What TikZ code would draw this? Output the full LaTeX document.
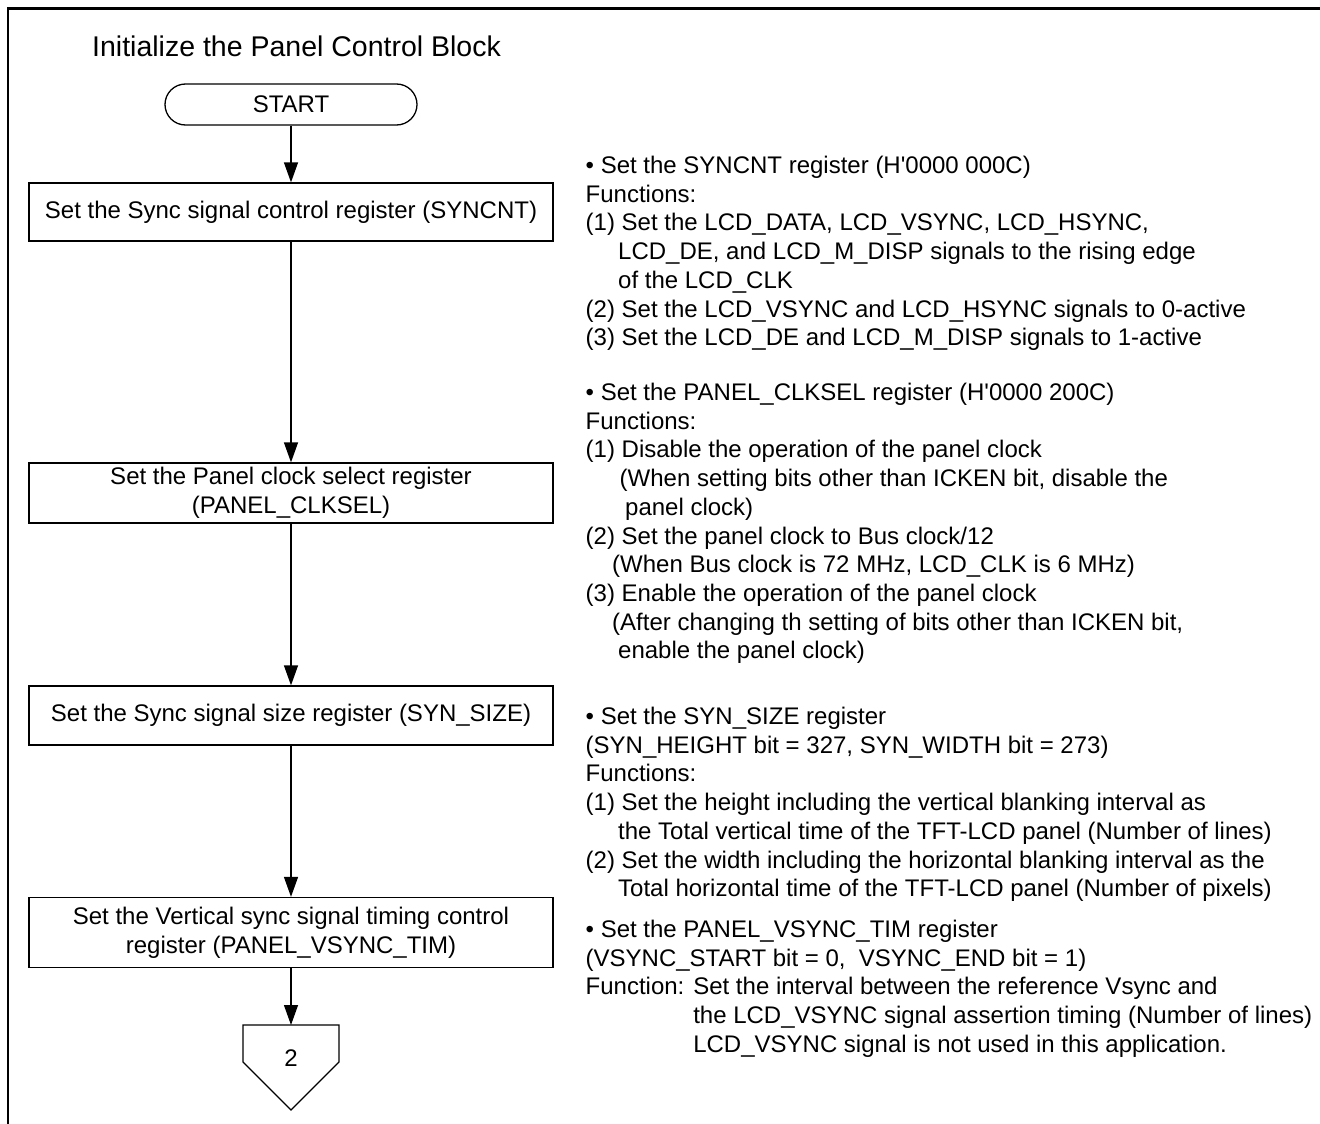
\documentclass[tikz,border=0pt]{standalone}
\usepackage{fontspec}
\setmainfont{Liberation Sans}
\usetikzlibrary{arrows.meta}
\begin{document}
\begin{tikzpicture}[x=1pt,y=-1pt,
  body/.style={font=\fontsize{24}{28.7}\selectfont},
  stepbox/.style={draw, line width=1.3pt, minimum width=524pt, inner sep=0pt, align=center, body},
  term/.style={draw, rounded corners=20.5pt, line width=1.3pt, minimum width=252pt, minimum height=41pt, inner sep=0pt, body},
  flow/.style={line width=1.3pt, -{Triangle[length=20pt,width=14pt]}},
  note/.style={anchor=base west, inner sep=0pt, body},
  frame/.style={line width=2.6pt}]
\useasboundingbox (0,0) rectangle (1320,1124);

% page frame: top and left rules only
\coordinate (fa) at (7.8,1124);
\coordinate (fb) at (7.8,8.6);
\coordinate (fc) at (1320,8.6);
\draw[frame] (fa) -- (fb) -- (fc);

% title
\node[anchor=base west, inner sep=0pt, font=\fontsize{28.5}{34}\selectfont] (title) at (92,57) {Initialize the Panel Control Block};

% flow chart
\node[term] (start) at (291,104.5) {START};
\node[stepbox, minimum height=58pt] (s1) at (291,212) {Set the Sync signal control register (SYNCNT)};
\node[stepbox, minimum height=60pt] (s2) at (291,493) {Set the Panel clock select register\\(PANEL\_CLKSEL)};
\node[stepbox, minimum height=59pt] (s3) at (291,715.5) {Set the Sync signal size register (SYN\_SIZE)};
\node[stepbox, minimum height=70pt] (s4) at (291,932.5) {Set the Vertical sync signal timing control\\register (PANEL\_VSYNC\_TIM)};

% off-page connector
\coordinate (p1) at (243,1025);
\coordinate (p2) at (339,1025);
\coordinate (p3) at (339,1062);
\coordinate (p4) at (291,1110);
\coordinate (p5) at (243,1062);
\coordinate (c2top) at (291,1025);
\draw[line width=1.3pt] (p1) -- (p2) -- (p3) -- (p4) -- (p5) -- cycle;
\node[body, inner sep=0pt] (c2) at (291,1058) {2};

\draw[flow] (start) -- (s1);
\draw[flow] (s1) -- (s2);
\draw[flow] (s2) -- (s3);
\draw[flow] (s3) -- (s4);
\draw[flow] (s4) -- (c2top);

% notes: SYNCNT
\node[note] (a1) at (585.5,173.5) {• Set the SYNCNT register (H\textquotesingle 0000 000C)};
\node[note] (a2) at (585.5,202.2) {Functions:};
\node[note] (a3) at (585.5,230.9) {(1) Set the LCD\_DATA, LCD\_VSYNC, LCD\_HSYNC,};
\node[note] (a4) at (618,259.6) {LCD\_DE, and LCD\_M\_DISP signals to the rising edge};
\node[note] (a5) at (618,288.3) {of the LCD\_CLK};
\node[note] (a6) at (585.5,317) {(2) Set the LCD\_VSYNC and LCD\_HSYNC signals to 0-active};
\node[note] (a7) at (585.5,345.7) {(3) Set the LCD\_DE and LCD\_M\_DISP signals to 1-active};

% notes: PANEL_CLKSEL
\node[note] (b1) at (585.5,400.5) {• Set the PANEL\_CLKSEL register (H\textquotesingle 0000 200C)};
\node[note] (b2) at (585.5,429.2) {Functions:};
\node[note] (b3) at (585.5,457.9) {(1) Disable the operation of the panel clock};
\node[note] (b4) at (619.5,486.6) {(When setting bits other than ICKEN bit, disable the};
\node[note] (b5) at (625,515.3) {panel clock)};
\node[note] (b6) at (585.5,544) {(2) Set the panel clock to Bus clock/12};
\node[note] (b7) at (612,572.7) {(When Bus clock is 72 MHz, LCD\_CLK is 6 MHz)};
\node[note] (b8) at (585.5,601.4) {(3) Enable the operation of the panel clock};
\node[note] (b9) at (612,630.1) {(After changing th setting of bits other than ICKEN bit,};
\node[note] (b10) at (618,658.8) {enable the panel clock)};

% notes: SYN_SIZE
\node[note] (c1) at (585.5,724.5) {• Set the SYN\_SIZE register};
\node[note] (c2n) at (585.5,753.2) {(SYN\_HEIGHT bit = 327, SYN\_WIDTH bit = 273)};
\node[note] (c3) at (585.5,781.9) {Functions:};
\node[note] (c4) at (585.5,810.6) {(1) Set the height including the vertical blanking interval as};
\node[note] (c5) at (618,839.3) {the Total vertical time of the TFT-LCD panel (Number of lines)};
\node[note] (c6) at (585.5,868) {(2) Set the width including the horizontal blanking interval as the};
\node[note] (c7) at (618,896.7) {Total horizontal time of the TFT-LCD panel (Number of pixels)};

% notes: PANEL_VSYNC_TIM
\node[note] (d1) at (585.5,937.5) {• Set the PANEL\_VSYNC\_TIM register};
\node[note] (d2) at (585.5,966.2) {(VSYNC\_START bit = 0,\ \ VSYNC\_END bit = 1)};
\node[note] (d3) at (585.5,994.9) {Function: Set the interval between the reference Vsync and};
\node[note] (d4) at (585.5,1023.6) {\phantom{Function: }the LCD\_VSYNC signal assertion timing (Number of lines)};
\node[note] (d5) at (585.5,1052.3) {\phantom{Function: }LCD\_VSYNC signal is not used in this application.};
\end{tikzpicture}
\end{document}
